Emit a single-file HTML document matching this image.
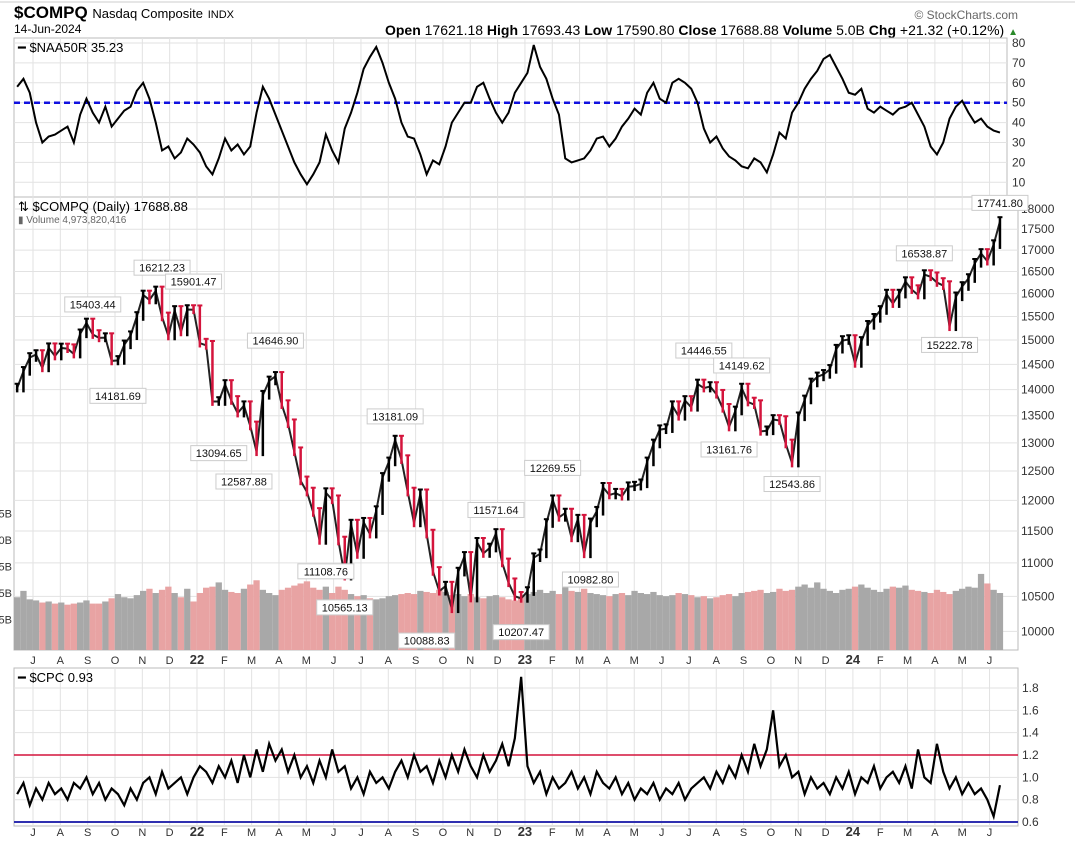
<!DOCTYPE html>
<html><head><meta charset="utf-8"><style>
body{margin:0;background:#fff;font-family:"Liberation Sans",sans-serif}
svg{display:block}
</style></head><body>
<svg id="c" width="1075" height="847" xmlns="http://www.w3.org/2000/svg" font-family="Liberation Sans, sans-serif">
<line x1="0" y1="2" x2="1075" y2="2" stroke="#ccc"/>
<text x="14" y="18" font-size="17" font-weight="bold">$COMPQ <tspan font-size="13" font-weight="normal">Nasdaq Composite</tspan> <tspan font-size="11" font-weight="normal">INDX</tspan></text>
<text x="14" y="33" font-size="12">14-Jun-2024</text>
<text x="1018" y="19" font-size="12" fill="#666" text-anchor="end">© StockCharts.com</text>
<text x="1018" y="35" font-size="14" text-anchor="end"><tspan font-weight="bold">Open</tspan> 17621.18 <tspan font-weight="bold">High</tspan> 17693.43 <tspan font-weight="bold">Low</tspan> 17590.80 <tspan font-weight="bold">Close</tspan> 17688.88 <tspan font-weight="bold">Volume</tspan> 5.0B <tspan font-weight="bold">Chg</tspan> +21.32 (+0.12%) <tspan fill="#2a8a2a" font-size="10">▲</tspan></text>
<g id="g"></g>
</svg>
<script>
const compq=[14030,14360,14640,14700,14430,14840,14670,14835,14820,14710,15130,15360,15115,15045,15050,14570,14580,14900,15090,15500,15970,15860,16060,15490,15085,15630,15170,15650,15645,
14935,14890,13770,13770,14100,13790,13550,13690,13310,12840,13890,14170,14260,13710,13350,12840,12330,12140,11800,11350,12130,12010,11340,10800,11610,11130,11640,11450,11830,12390,12660,13050,12700,12140,11630,12110,11450,10870,10575,10650,10320,10860,11100,10475,11320,11145,11230,11460,11000,10700,10500,10470,
10570,11080,11140,11620,12010,11720,11790,11390,11690,11140,11630,11820,12220,12090,12120,12070,12230,12240,12280,12660,12980,13240,13260,13690,13490,13790,13660,14110,14030,14060,13910,13640,13290,13590,14030,13760,13710,13210,13220,13430,13410,12980,12640,13480,13800,14130,14250,14300,14400,14810,14990,15010,
14520,14970,15310,15460,15630,15990,15780,15990,16270,16090,15970,16430,16380,16250,16180,15280,15930,16160,16340,16690,16920,16740,17130,17690];
const naa50r=[58,62,55,40,30,33,34,36,38,30,44,52,45,40,48,38,42,46,48,56,60,52,40,26,28,22,25,32,29,25,
18,14,22,32,26,29,24,28,45,58,52,44,36,28,20,14,9,14,20,34,26,20,37,45,55,67,73,78,70,60,
52,40,33,32,24,14,21,19,28,40,45,50,50,58,60,52,45,40,45,55,60,65,79,68,62,52,44,22,20,21,
22,26,32,33,28,32,38,42,47,44,55,60,52,50,60,62,60,57,50,37,30,33,27,23,21,18,17,22,20,15,
24,35,32,45,50,57,62,66,72,74,68,62,55,54,57,47,45,48,46,44,47,48,50,44,38,28,24,30,42,48,
51,45,40,42,38,36,35];
const cpc=[0.85,0.95,0.75,0.9,0.8,0.95,0.85,0.9,0.8,0.95,0.9,1.0,0.85,0.95,0.8,0.9,0.85,0.75,0.9,0.8,
0.95,1.0,0.85,1.05,0.9,0.95,1.0,0.85,1.0,1.1,1.05,0.95,1.1,1.0,1.15,0.95,1.2,1.0,1.25,1.05,
1.3,1.15,1.25,1.05,1.2,1.0,1.1,0.95,1.15,1.0,1.25,1.05,1.1,0.9,1.0,0.85,1.05,0.95,1.0,0.9,
1.05,1.15,1.0,1.2,1.05,1.1,0.95,1.15,1.0,1.2,1.05,1.25,1.1,1.0,1.2,1.05,1.15,1.3,1.1,1.35,
1.9,1.1,0.95,1.05,0.85,1.0,0.9,0.95,1.05,0.9,1.0,0.85,1.05,0.95,0.9,1.0,0.85,0.95,0.8,0.9,
0.85,0.95,0.8,0.9,0.85,0.95,0.8,0.9,0.95,1.0,0.9,1.05,0.95,1.1,1.0,1.2,1.05,1.3,1.1,1.25,
1.6,1.1,1.2,1.0,1.05,0.85,1.0,0.9,0.95,0.85,1.0,0.9,1.05,0.85,1.0,0.95,1.1,0.9,1.0,1.05,
0.95,1.1,0.9,1.25,1.0,0.95,1.3,1.05,0.9,1.0,0.85,0.95,0.85,0.9,0.8,0.65,0.93];
const volume=[4.6,5.2,4.4,4.3,4.1,4.2,4.0,4.1,3.9,4.0,4.1,4.3,4.0,4.0,4.2,4.5,4.9,4.6,4.5,4.8,
5.2,5.4,5.0,5.3,5.6,5.0,4.6,5.4,4.2,5.0,5.5,5.6,6.0,5.3,5.1,5.0,5.4,5.8,6.2,5.3,
5.0,4.8,5.3,5.5,5.7,5.9,6.1,5.5,5.3,5.6,5.0,5.6,5.3,4.9,4.7,4.8,4.5,4.4,4.5,4.7,
4.8,4.9,5.0,4.9,5.2,5.1,5.0,5.3,5.1,4.8,4.9,4.7,4.9,4.6,4.5,4.7,4.8,4.6,4.4,4.3,
4.6,4.9,5.1,5.3,5.0,5.2,4.9,5.6,5.2,5.1,5.4,5.0,4.9,4.8,4.7,4.9,5.0,4.8,5.2,5.0,
4.9,5.1,4.8,4.7,4.8,5.0,4.9,4.8,4.6,4.7,4.5,4.6,4.8,4.9,4.7,5.0,5.1,5.2,5.3,5.0,
5.1,5.4,5.2,5.3,5.6,5.8,5.5,6.0,5.4,5.2,5.0,5.3,5.4,5.6,5.8,5.5,5.3,5.1,5.4,5.6,
5.5,5.7,5.3,5.2,5.1,5.0,5.3,5.1,4.9,5.2,5.4,5.6,5.5,6.8,5.9,5.3,5.0];
const annIdx=[12,16,23,28,32,36,41,49,52,60,65,76,80,85,91,109,113,115,123,144,148,156];
const annVal=[15403.44,14181.69,16212.23,15901.47,13094.65,12587.88,14646.90,11108.76,10565.13,13181.09,10088.83,11571.64,10207.47,12269.55,10982.80,14446.55,13161.76,14149.62,12543.86,16538.87,15222.78,17741.80];
const annUp=[1,0,1,1,0,0,1,0,0,1,0,1,0,1,0,1,0,1,0,1,0,1];
const months=["J","A","S","O","N","D","22","F","M","A","M","J","J","A","S","O","N","D","23","F","M","A","M","J","J","A","S","O","N","D","24","F","M","A","M","J"];
const naaTicks=[10,20,30,40,50,60,70,80];
const priceTicks=[10000,10500,11000,11500,12000,12500,13000,13500,14000,14500,15000,15500,16000,16500,17000,17500,18000];
const volTicks=["2.5B","5B","7.5B","10B","12.5B"];
const volTickVals=[2.5,5,7.5,10,12.5];
const cpcTicks=[0.6,0.8,1.0,1.2,1.4,1.6,1.8];

const NS="http://www.w3.org/2000/svg",G=document.getElementById('g');
function mk(t,a,p){const e=document.createElementNS(NS,t);for(const k in a)e.setAttribute(k,a[k]);(p||G).appendChild(e);return e;}
const X=i=>14+(i+0.5)*6.3;
const mX=m=>33+m*27.33;
const yN=v=>43+(80-v)*1.99;
const yP=v=>209+(Math.log(18000)-Math.log(v))*718.6;
const yV=b=>646-b*10.6;
const yC=v=>688+(1.8-v)*111.7;
const L1=14,R1=1007,R2=1018;

let p=mk('rect',{x:L1,y:38,width:R1-L1,height:159,fill:'#fff',stroke:'#bbb'});


p=mk('rect',{x:L1,y:197,width:R2-L1,height:453,fill:'#fff',stroke:'#bbb'});


p=mk('rect',{x:L1,y:668,width:R2-L1,height:158,fill:'#fff',stroke:'#bbb'});



months.forEach((m,k)=>{
  const x=mX(k);
  [[38,197],[197,650],[668,826]].forEach(r=>{
    const l=mk('line',{x1:x,x2:x,y1:r[0],y2:r[1],stroke:'#e2e2e2'});
    
    
  });
  [664,836].forEach(y=>{
    const t=mk('text',{x:x,y:y,'font-size':/\d/.test(m)?13:11,'font-weight':/\d/.test(m)?'bold':'normal','text-anchor':'middle',fill:'#333'});
    t.textContent=m;
    
    
  });
});

naaTicks.forEach(v=>{
  const l=mk('line',{x1:L1,x2:R1,y1:yN(v),y2:yN(v),stroke:'#e2e2e2'});
  
  
  const t=mk('text',{x:1012,y:yN(v)+4,'font-size':12,fill:'#333'});
  t.textContent=v;
  
  
});
let ln=mk('line',{x1:L1,x2:R1,y1:yN(50),y2:yN(50),stroke:'#1010e0','stroke-width':2.5,'stroke-dasharray':'6,4'});


let pl=mk('polyline',{points:naa50r.map((v,i)=>X(i)+','+yN(v)).join(' '),fill:'none',stroke:'#000','stroke-width':2});


let t=mk('text',{x:18,y:52,'font-size':13});
t.textContent='━ $NAA50R 35.23';



priceTicks.forEach(v=>{
  const l=mk('line',{x1:L1,x2:R2,y1:yP(v),y2:yP(v),stroke:'#e2e2e2'});
  
  
  const tt=mk('text',{x:1021,y:yP(v)+4,'font-size':12,fill:'#333'});
  tt.textContent=v;
  
  
});
volTickVals.forEach((v,k)=>{
  const tt=mk('text',{x:12,y:yV(v)+4,'font-size':11,fill:'#333','text-anchor':'end'});
  tt.textContent=volTicks[k];
  
  
});
volume.forEach((b,i)=>{
  const down=i>0&&compq[i]<compq[i-1];
  const r=mk('rect',{x:X(i)-3.15,y:yV(b),width:6.3,height:646-yV(b)+4,fill:down?'#e8a3a3':'#a8a8a8'});
  
  
});
pl=mk('polyline',{points:compq.map((v,i)=>X(i)+','+yP(v)).join(' '),fill:'none',stroke:'#222','stroke-width':2});


compq.forEach((v,i)=>{
  const pv=i>0?compq[i-1]:v, down=v<pv;
  const hi=Math.max(pv,v)*1.006, lo=Math.min(pv,v)*0.994, c=down?'#d4143c':'#000';
  const b=mk('line',{x1:X(i),x2:X(i),y1:yP(hi),y2:yP(lo),stroke:c,'stroke-width':2.5});
  
  
  const tk=mk('line',{x1:X(i)-2.5,x2:X(i)+2.5,y1:yP(hi),y2:yP(hi),stroke:c,'stroke-width':2});
  
  
});
annIdx.forEach((i,k)=>{
  const x=X(i), y=yP(annVal[k]), up=annUp[k];
  const by=up?y-24:y+8;
  const r=mk('rect',{x:x-28,y:by,width:56,height:15,fill:'#fff',stroke:'#ccc'});
  
  
  const tt=mk('text',{x:x,y:by+11.5,'font-size':11,'text-anchor':'middle',fill:'#111'});
  tt.textContent=annVal[k].toFixed(2);
  
  
});
t=mk('text',{x:18,y:211,'font-size':13});
t.textContent='⇅ $COMPQ (Daily) 17688.88';


t=mk('text',{x:18,y:223,'font-size':10,fill:'#666'});
t.textContent='▮ Volume 4,973,820,416';



cpcTicks.forEach(v=>{
  const l=mk('line',{x1:L1,x2:R2,y1:yC(v),y2:yC(v),stroke:'#e2e2e2'});
  
  
  const tt=mk('text',{x:1022,y:yC(v)+4,'font-size':12,fill:'#333'});
  tt.textContent=v.toFixed(1);
  
  
});
ln=mk('line',{x1:L1,x2:R2,y1:yC(1.2),y2:yC(1.2),stroke:'#d4143c','stroke-width':1.5});


ln=mk('line',{x1:L1,x2:R2,y1:yC(0.6),y2:yC(0.6),stroke:'#3030b0','stroke-width':2});


pl=mk('polyline',{points:cpc.map((v,i)=>X(i)+','+yC(v)).join(' '),fill:'none',stroke:'#000','stroke-width':2.2});


t=mk('text',{x:18,y:682,'font-size':13});
t.textContent='━ $CPC 0.93';


</script>
</body></html>
